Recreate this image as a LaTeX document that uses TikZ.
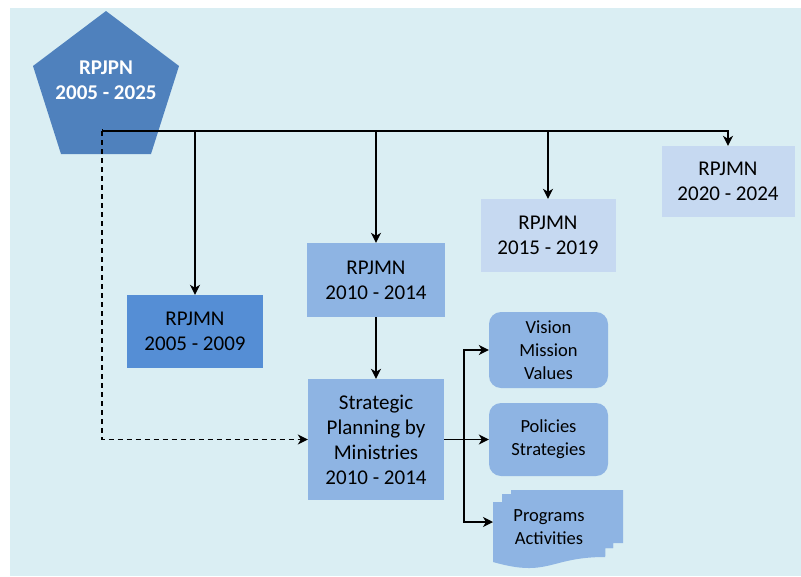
\documentclass[tikz,border=0pt]{standalone}
\usepackage{fontspec}
\setmainfont{Carlito}
\usetikzlibrary{arrows.meta}
\definecolor{bgblue}{HTML}{DAEEF3}
\definecolor{pentblue}{HTML}{4F81BD}
\definecolor{darkbox}{HTML}{558ED5}
\definecolor{midbox}{HTML}{8EB4E3}
\definecolor{lightbox}{HTML}{C6D9F1}
\tikzset{
  plan/.style={rectangle, inner sep=0pt, align=center, text=black,
    font=\fontsize{21}{25}\selectfont},
  item/.style={rectangle, rounded corners=12pt, inner sep=0pt, align=center,
    text=black, fill=midbox, font=\fontsize{18.5}{23}\selectfont,
    minimum width=119pt},
  link/.style={line width=1.3pt, -{Stealth[length=10pt,width=10pt,inset=3pt]}},
  bus/.style={line width=1.3pt},
}
\begin{document}
\begin{tikzpicture}[x=1pt,y=-1pt]
  \useasboundingbox (0,0) rectangle (801,576);
  \fill[bgblue] (10,8) rectangle (801,576);

  % long-term plan (pentagon)
  \fill[pentblue] (106,11) -- (179,66) -- (151,154) -- (61,154) -- (33,66) -- cycle;
  \node[align=center, text=white, font=\bfseries\fontsize{21}{25}\selectfont]
    (rpjpn) at (106,80) {RPJPN\\2005 - 2025};

  % medium-term plans
  \node[plan, fill=darkbox, minimum width=136pt, minimum height=73pt]
    (p2005) at (195,331.5) {RPJMN\\2005 - 2009};
  \node[plan, fill=midbox, minimum width=138pt, minimum height=74pt]
    (p2010) at (376,280) {RPJMN\\2010 - 2014};
  \node[plan, fill=lightbox, minimum width=135pt, minimum height=73pt]
    (p2015) at (548,235.5) {RPJMN\\2015 - 2019};
  \node[plan, fill=lightbox, minimum width=133pt, minimum height=71pt]
    (p2020) at (728,181.5) {RPJMN\\2020 - 2024};

  % ministries planning
  \node[plan, fill=midbox, minimum width=136pt, minimum height=121pt]
    (strat) at (376,439.5) {Strategic\\Planning by\\Ministries\\2010 - 2014};

  % outputs
  \node[item, minimum height=76pt] (vision) at (548.5,350) {Vision\\Mission\\Values};
  \node[item, minimum height=73pt] (policy) at (548.5,439.5) {Policies\\Strategies};

  % stacked documents
  \fill[midbox] (511,490) -- (623,490) -- (623,543) -- (613,543) -- (613,548)
    -- (605,548) -- (605,556) -- (511,556) -- cycle;
  \fill[midbox] (502,494) -- (613,494) -- (613,548) -- (605,548) -- (605,556)
    -- (502,556) -- cycle;
  \fill[midbox] (493,502) -- (605,502) -- (605,557)
    .. controls (549,557) and (549,578) .. (493,562) -- cycle;
  \node[align=center, text=black, font=\fontsize{18.5}{23}\selectfont]
    (progs) at (549,527) {Programs\\Activities};
  \coordinate (progin) at (493,522);

  % connectors
  \coordinate (start) at (102,131);
  \draw[bus, {Bar[width=5pt]}-{Stealth[length=10pt,width=10pt,inset=3pt]}]
    (start) -| (p2020.north);
  \draw[link] (p2005.north |- start) -- (p2005.north);
  \draw[link] (p2010.north |- start) -- (p2010.north);
  \draw[link] (p2015.north |- start) -- (p2015.north);
  \draw[link] (p2010.south) -- (strat.north);
  \draw[link, dash pattern=on 5pt off 4pt] (start) |- (strat.west);

  \coordinate (split) at (464,439.5);
  \draw[bus] (strat.east) -- (split);
  \draw[link] (split) |- (vision.west);
  \draw[link] (split) -- (policy.west);
  \draw[link] (split) |- (progin);
\end{tikzpicture}
\end{document}
